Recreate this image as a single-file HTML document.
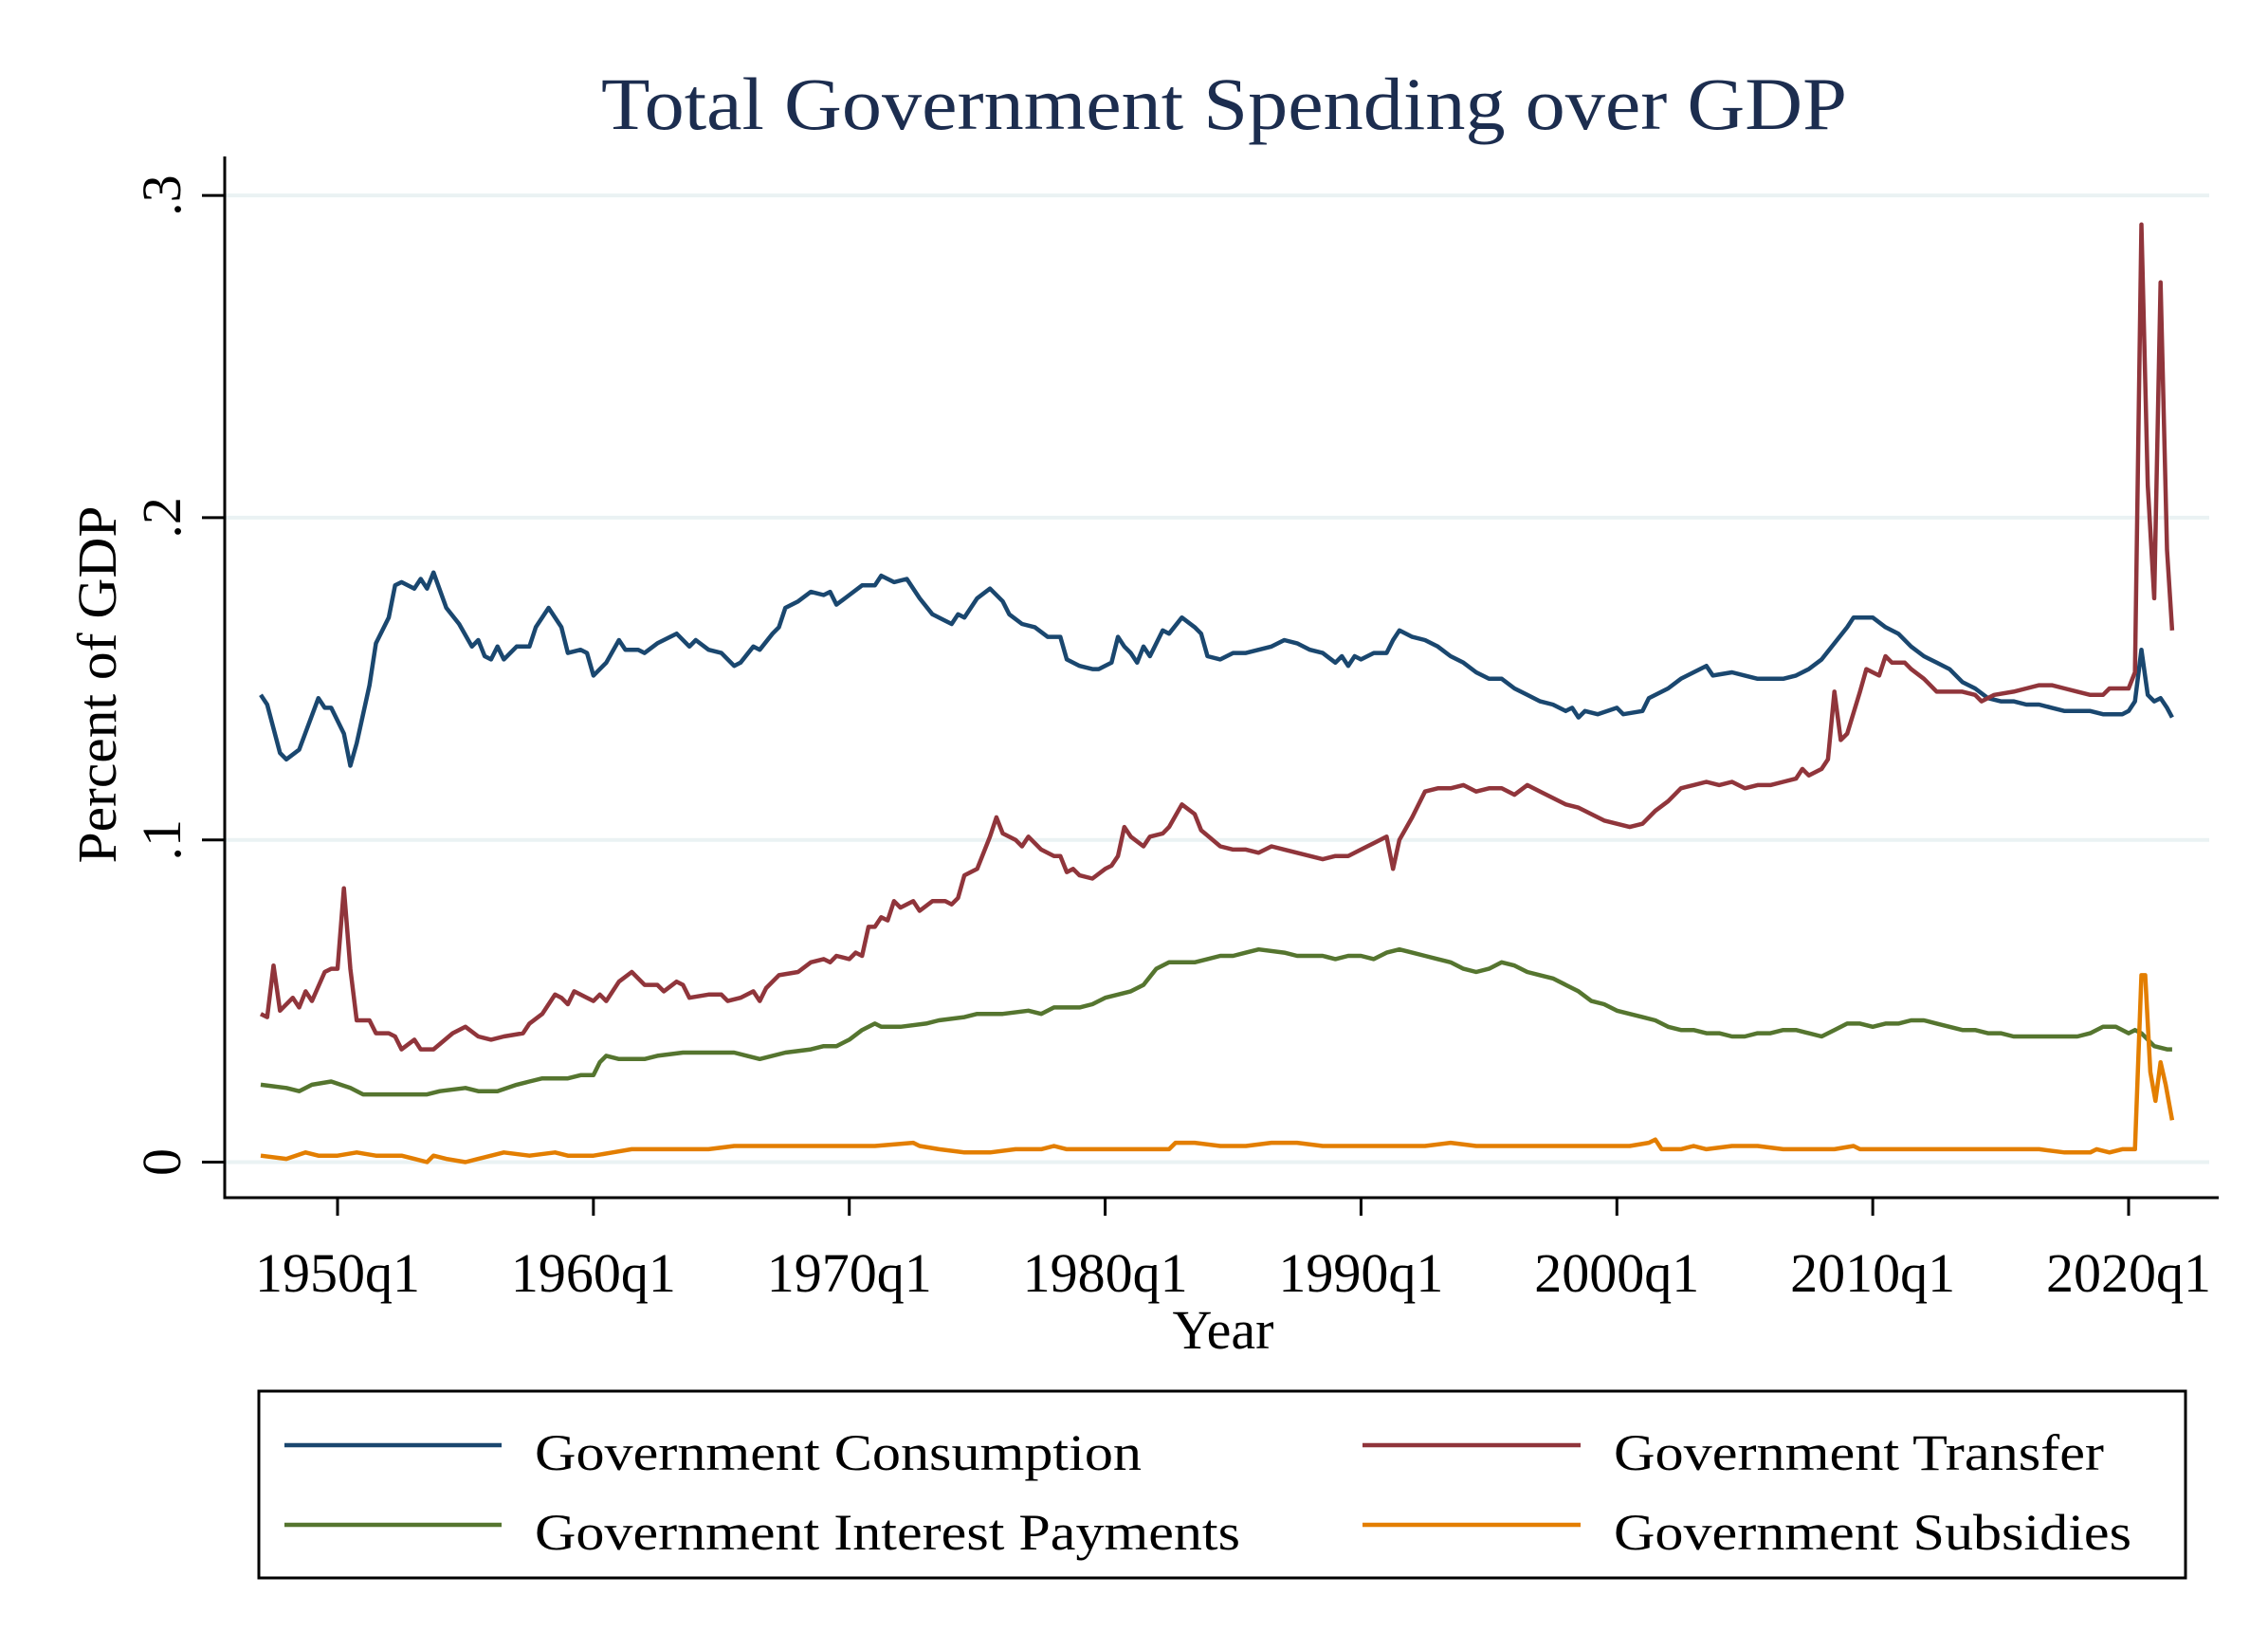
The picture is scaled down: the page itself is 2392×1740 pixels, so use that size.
<!DOCTYPE html>
<html><head><meta charset="utf-8"><title>Total Government Spending over GDP</title>
<style>html,body{margin:0;padding:0;background:#fff;}svg{display:block;}text{font-family:"Liberation Serif",serif;}</style></head>
<body>
<svg id="chart" width="2392" height="1740" viewBox="0 0 2392 1740" xmlns="http://www.w3.org/2000/svg">
<rect width="2392" height="1740" fill="#fff"/>
<text x="1291" y="136" text-anchor="middle" font-size="78" fill="#1c2d4f" textLength="1314" lengthAdjust="spacingAndGlyphs">Total Government Spending over GDP</text>
<g id="grid"></g>
<g id="axes"></g>
<g id="series"></g>
<text x="1290" y="1422" text-anchor="middle" font-size="58">Year</text>
<text transform="translate(122,722) rotate(-90)" text-anchor="middle" font-size="58" textLength="377" lengthAdjust="spacingAndGlyphs">Percent of GDP</text>
<g>
<rect x="273" y="1467" width="2032" height="197" fill="#fff" stroke="#000" stroke-width="3"/>
<g>
<line x1="300" y1="1524" x2="529" y2="1524" stroke="#1a476f" stroke-width="4.5"/>
<text x="564" y="1550" font-size="54" textLength="640" lengthAdjust="spacingAndGlyphs">Government Consumption</text></g>
<g>
<line x1="1437" y1="1524" x2="1667" y2="1524" stroke="#90353b" stroke-width="4.5"/>
<text x="1702" y="1550" font-size="54" textLength="517" lengthAdjust="spacingAndGlyphs">Government Transfer</text></g>
<g>
<line x1="300" y1="1608" x2="529" y2="1608" stroke="#55752f" stroke-width="4.5"/>
<text x="564" y="1634" font-size="54" textLength="744" lengthAdjust="spacingAndGlyphs">Government Interest Payments</text></g>
<g>
<line x1="1437" y1="1608" x2="1667" y2="1608" stroke="#e37e00" stroke-width="4.5"/>
<text x="1702" y="1634" font-size="54" textLength="546" lengthAdjust="spacingAndGlyphs">Government Subsidies</text></g>
</g>
</svg>
<script>
const yTicks = [0, 0.1, 0.2, 0.3];
const yTickLabels = ["0", ".1", ".2", ".3"];
const xTicks = [1950, 1960, 1970, 1980, 1990, 2000, 2010, 2020];
const xTickLabels = ["1950q1","1960q1","1970q1","1980q1","1990q1","2000q1","2010q1","2020q1"];

const consX = [1947,1947.25,1947.75,1948,1948.5,1949.25,1949.5,1949.75,1950.25,1950.5,1950.75,1951.25,1951.5,1952,1952.25,1952.5,1953,1953.25,1953.5,1953.75,1954.25,1954.75,1955.25,1955.5,1955.75,1956,1956.25,1956.5,1957,1957.5,1957.75,1958.25,1958.75,1959,1959.5,1959.75,1960,1960.5,1961,1961.25,1961.75,1962,1962.5,1963,1963.25,1963.75,1964,1964.5,1965,1965.5,1965.75,1966.25,1966.5,1967,1967.25,1967.5,1968,1968.5,1969,1969.25,1969.5,1970,1970.5,1971,1971.25,1971.75,1972.25,1972.75,1973.25,1973.75,1974,1974.25,1974.5,1975,1975.5,1976,1976.25,1976.75,1977.25,1977.75,1978.25,1978.5,1979,1979.5,1979.75,1980.25,1980.5,1980.75,1981,1981.25,1981.5,1981.75,1982.25,1982.5,1983,1983.5,1983.75,1984,1984.5,1985,1985.5,1986,1986.5,1987,1987.5,1988,1988.5,1989,1989.25,1989.5,1989.75,1990,1990.5,1991,1991.25,1991.5,1992,1992.5,1993,1993.5,1994,1994.5,1995,1995.5,1996,1996.5,1997,1997.5,1998,1998.25,1998.5,1998.75,1999.25,2000,2000.25,2001,2001.25,2002,2002.5,2003,2003.5,2003.75,2004.5,2005,2005.5,2006,2006.5,2007,2007.5,2008,2008.5,2009,2009.25,2010,2010.5,2011,2011.5,2012,2012.5,2013,2013.5,2014,2014.5,2015,2015.5,2016,2016.5,2017,2017.5,2018,2018.5,2019,2019.75,2020,2020.25,2020.5,2020.75,2021,2021.25,2021.5,2021.7];
const consY = [.145,.142,.127,.125,.128,.144,.141,.141,.133,.123,.130,.148,.161,.169,.179,.180,.178,.181,.178,.183,.172,.167,.160,.162,.157,.156,.160,.156,.160,.160,.166,.172,.166,.158,.159,.158,.151,.155,.162,.159,.159,.158,.161,.163,.164,.160,.162,.159,.158,.154,.155,.160,.159,.164,.166,.172,.174,.177,.176,.177,.173,.176,.179,.179,.182,.180,.181,.175,.170,.168,.167,.170,.169,.175,.178,.174,.170,.167,.166,.163,.163,.156,.154,.153,.153,.155,.163,.160,.158,.155,.160,.157,.165,.164,.169,.166,.164,.157,.156,.158,.158,.159,.160,.162,.161,.159,.158,.155,.157,.154,.157,.156,.158,.158,.162,.165,.163,.162,.160,.157,.155,.152,.150,.150,.147,.145,.143,.142,.140,.141,.138,.140,.139,.141,.139,.140,.144,.147,.150,.152,.154,.151,.152,.151,.150,.150,.150,.151,.153,.156,.161,.166,.169,.169,.166,.164,.160,.157,.155,.153,.149,.147,.144,.143,.143,.142,.142,.141,.140,.140,.140,.139,.139,.140,.143,.159,.145,.143,.144,.141,.138];

const tranX = [1947,1947.25,1947.5,1947.75,1948.25,1948.5,1948.75,1949,1949.5,1949.75,1950,1950.25,1950.5,1950.75,1951.25,1951.5,1952,1952.25,1952.5,1953,1953.25,1953.75,1954.5,1955,1955.5,1956,1956.5,1957.25,1957.5,1958,1958.5,1958.75,1959,1959.25,1959.75,1960,1960.25,1960.5,1961,1961.5,1962,1962.5,1962.75,1963.25,1963.5,1963.75,1964.5,1965,1965.25,1965.75,1966.25,1966.5,1966.75,1967.25,1968,1968.5,1969,1969.25,1969.5,1970,1970.25,1970.5,1970.75,1971,1971.25,1971.5,1971.75,1972,1972.5,1972.75,1973.25,1973.75,1974,1974.25,1974.5,1975,1975.5,1975.75,1976,1976.5,1976.75,1977,1977.5,1978,1978.25,1978.5,1978.75,1979,1979.5,1980,1980.25,1980.5,1980.75,1981,1981.5,1981.75,1982.25,1982.5,1983,1983.5,1983.75,1984.5,1985,1985.5,1986,1986.5,1987,1987.5,1988,1988.5,1989,1989.5,1990,1990.5,1991,1991.25,1991.5,1992,1992.5,1993,1993.5,1994,1994.5,1995,1995.5,1996,1996.5,1997,1997.5,1998,1998.5,1999,1999.5,2000,2000.5,2001,2001.5,2002,2002.5,2003,2003.5,2004,2004.5,2005,2005.5,2006,2006.5,2007,2007.25,2007.5,2008,2008.25,2008.5,2008.75,2009,2009.5,2009.75,2010,2010.25,2010.5,2010.75,2011.25,2011.5,2012,2012.5,2013,2013.5,2014,2014.25,2014.75,2015.5,2016,2016.5,2017,2017.5,2018,2018.5,2019,2019.25,2019.75,2020,2020.25,2020.5,2020.75,2021,2021.25,2021.5,2021.7];
const tranY = [.046,.045,.061,.047,.051,.048,.053,.050,.059,.060,.060,.085,.060,.044,.044,.040,.040,.039,.035,.038,.035,.035,.040,.042,.039,.038,.039,.040,.043,.046,.052,.051,.049,.053,.051,.050,.052,.050,.056,.059,.055,.055,.053,.056,.055,.051,.052,.052,.050,.051,.053,.050,.054,.058,.059,.062,.063,.062,.064,.063,.065,.064,.073,.073,.076,.075,.081,.079,.081,.078,.081,.081,.080,.082,.089,.091,.101,.107,.102,.100,.098,.101,.097,.095,.095,.090,.091,.089,.088,.091,.092,.095,.104,.101,.098,.101,.102,.104,.111,.108,.103,.098,.097,.097,.096,.098,.097,.096,.095,.094,.095,.095,.097,.099,.101,.091,.100,.107,.115,.116,.116,.117,.115,.116,.116,.114,.117,.115,.113,.111,.110,.108,.106,.105,.104,.105,.109,.112,.116,.117,.118,.117,.118,.116,.117,.117,.118,.119,.122,.120,.122,.125,.146,.131,.133,.146,.153,.152,.151,.157,.155,.155,.153,.150,.146,.146,.146,.145,.143,.145,.146,.147,.148,.148,.147,.146,.145,.145,.147,.147,.147,.152,.291,.210,.175,.273,.190,.165];

const intX = [1947,1948,1948.5,1949,1949.75,1950.5,1951,1952,1953,1953.5,1954,1955,1955.5,1956.25,1957,1957.5,1958,1959,1959.5,1960,1960.25,1960.5,1961,1962,1962.5,1963.5,1964.5,1965,1965.5,1966,1966.5,1967.5,1968.5,1969,1969.5,1970,1970.5,1971,1971.25,1972,1973,1973.5,1974.5,1975,1976,1977,1977.5,1978,1979,1979.5,1980,1980.5,1981,1981.5,1982,1982.5,1983,1983.5,1984,1984.5,1985,1985.5,1986,1987,1987.5,1988,1988.5,1989,1989.5,1990,1990.5,1991,1991.5,1992,1992.5,1993,1993.5,1994,1994.5,1995,1995.5,1996,1996.5,1997,1997.5,1998,1998.5,1999,1999.5,2000,2000.5,2001,2001.5,2002,2002.5,2003,2003.5,2004,2004.5,2005,2005.5,2006,2006.5,2007,2007.5,2008,2008.5,2009,2009.5,2010,2010.5,2011,2011.5,2012,2012.5,2013,2013.5,2014,2014.5,2015,2015.5,2016,2016.5,2017,2017.5,2018,2018.5,2019,2019.5,2020,2020.25,2020.5,2021,2021.5,2021.7];
const intY = [.024,.023,.022,.024,.025,.023,.021,.021,.021,.021,.022,.023,.022,.022,.024,.025,.026,.026,.027,.027,.031,.033,.032,.032,.033,.034,.034,.034,.034,.033,.032,.034,.035,.036,.036,.038,.041,.043,.042,.042,.043,.044,.045,.046,.046,.047,.046,.048,.048,.049,.051,.052,.053,.055,.060,.062,.062,.062,.063,.064,.064,.065,.066,.065,.064,.064,.064,.063,.064,.064,.063,.065,.066,.065,.064,.063,.062,.060,.059,.060,.062,.061,.059,.058,.057,.055,.053,.050,.049,.047,.046,.045,.044,.042,.041,.041,.040,.040,.039,.039,.040,.040,.041,.041,.040,.039,.041,.043,.043,.042,.043,.043,.044,.044,.043,.042,.041,.041,.040,.040,.039,.039,.039,.039,.039,.039,.040,.042,.042,.040,.041,.040,.036,.035,.035];

const subX = [1947,1948,1948.75,1949.25,1950,1950.75,1951.5,1952.5,1953,1953.5,1953.75,1954.25,1955,1955.5,1956.5,1957.5,1958.5,1959,1960,1960.75,1961.5,1962.5,1963.5,1964.5,1965.5,1966.5,1967.5,1968.5,1970,1971,1972.5,1972.75,1973.5,1974.5,1975.5,1976.5,1977.5,1978,1978.5,1979.5,1980,1981,1982,1982.5,1982.75,1983.5,1984.5,1985.5,1986.5,1987.5,1988.5,1989.5,1990.5,1991.5,1992.5,1993.5,1994.5,1995.5,1996.5,1997.5,1998.5,1999.5,2000.5,2001.25,2001.5,2001.75,2002.5,2003,2003.5,2004.5,2005.5,2006.5,2007.5,2008.5,2009.25,2009.5,2010.5,2011.5,2012.5,2013.5,2014.5,2015.5,2016.5,2017.5,2018.5,2018.75,2019.25,2019.75,2020.25,2020.5,2020.65,2020.85,2021.05,2021.25,2021.45,2021.7];
const subY = [.002,.001,.003,.002,.002,.003,.002,.002,.001,.000,.002,.001,.000,.001,.003,.002,.003,.002,.002,.003,.004,.004,.004,.004,.005,.005,.005,.005,.005,.005,.006,.005,.004,.003,.003,.004,.004,.005,.004,.004,.004,.004,.004,.004,.006,.006,.005,.005,.006,.006,.005,.005,.005,.005,.005,.006,.005,.005,.005,.005,.005,.005,.005,.006,.007,.004,.004,.005,.004,.005,.005,.004,.004,.004,.005,.004,.004,.004,.004,.004,.004,.004,.004,.003,.003,.004,.003,.004,.004,.058,.058,.028,.019,.031,.024,.013];

const NS = "http://www.w3.org/2000/svg";
const X0 = 356, X1 = 2245, Y0 = 1225.5, YPER = 3398;
function xs(year){ return X0 + (year - 1950) * (X1 - X0) / 70; }
function ys(v){ return Y0 - v * YPER; }
function mk(tag, attrs, parent){ const e = document.createElementNS(NS, tag); for (const k in attrs) e.setAttribute(k, attrs[k]); parent.appendChild(e); return e; }

const grid = document.getElementById('grid');
const axes = document.getElementById('axes');
const series = document.getElementById('series');

yTicks.forEach((t, i) => {
  const g = mk('line', {x1: 237, x2: 2330, y1: ys(t), y2: ys(t), stroke: '#eaf2f3', 'stroke-width': 4}, grid);
  
  
  const tk = mk('line', {x1: 213, x2: 237, y1: ys(t), y2: ys(t), stroke: '#000', 'stroke-width': 3}, axes);
  
  
  const lb = mk('text', {transform: 'translate(190,' + ys(t) + ') rotate(-90)', 'text-anchor': 'middle', 'font-size': 58}, axes);
  lb.textContent = yTickLabels[i];
  
  
});
xTicks.forEach((t, i) => {
  const tk = mk('line', {x1: xs(t), x2: xs(t), y1: 1263, y2: 1282, stroke: '#000', 'stroke-width': 3}, axes);
  
  
  const lb = mk('text', {x: xs(t), y: 1362, 'text-anchor': 'middle', 'font-size': 58}, axes);
  lb.textContent = xTickLabels[i];
  
  
});
const ya = mk('line', {x1: 237, x2: 237, y1: 165, y2: 1264.5, stroke: '#000', 'stroke-width': 3}, axes);


const xa = mk('line', {x1: 235.5, x2: 2340, y1: 1263, y2: 1263, stroke: '#000', 'stroke-width': 3}, axes);



function drawLine(xArr, yArr, color, name){
  const d = xArr.map((x, i) => (i ? 'L' : 'M') + xs(x).toFixed(1) + ',' + ys(yArr[i]).toFixed(1)).join(' ');
  const p = mk('path', {d: d, fill: 'none', stroke: color, 'stroke-width': 4.5, 'stroke-linejoin': 'round'}, series);
  
  
}
drawLine(intX, intY, '#55752f', 'interest-payments-line');
drawLine(subX, subY, '#e37e00', 'subsidies-line');
drawLine(consX, consY, '#1a476f', 'consumption-line');
drawLine(tranX, tranY, '#90353b', 'transfer-line');
</script>
</body></html>
